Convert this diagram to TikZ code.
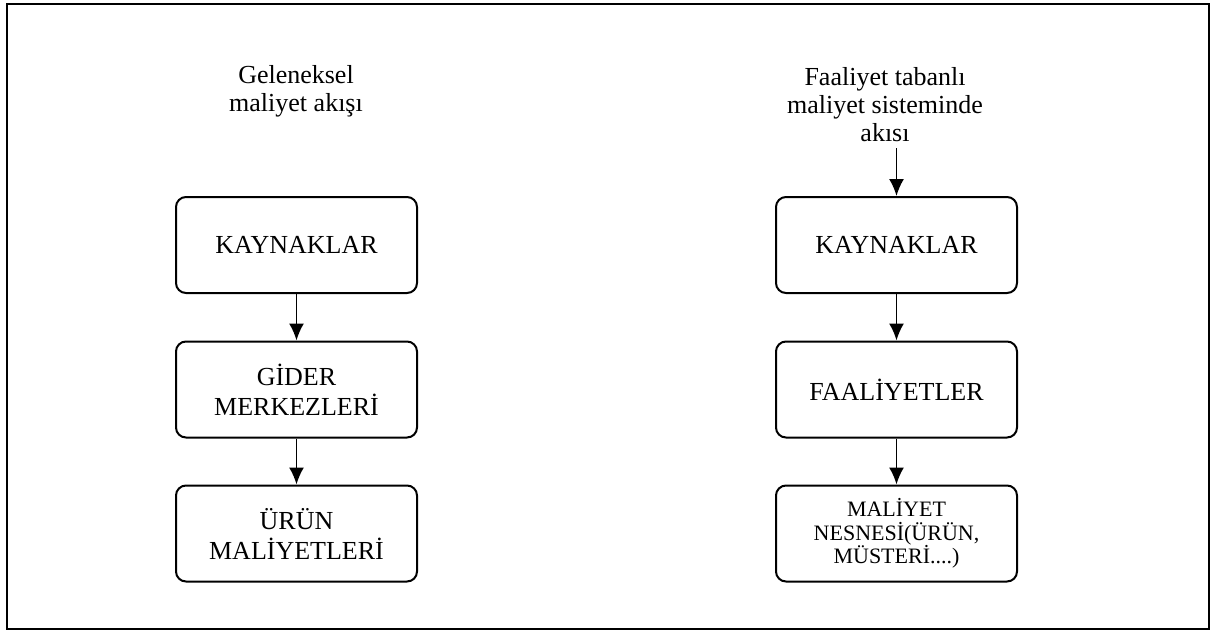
\documentclass[tikz,border=0pt]{standalone}
\usepackage{fontspec}
\setmainfont{Liberation Serif}
\usetikzlibrary{arrows.meta}

\tikzset{kutu/.style={draw,line width=2pt,rounded corners=10pt,minimum width=241pt,minimum height=96pt,align=center,inner sep=2pt,font=\fontsize{26}{30}\selectfont},
baslik/.style={align=center,inner sep=0pt,font=\fontsize{26}{28}\selectfont}}

\begin{document}
\begin{tikzpicture}[x=1pt,y=-1pt]
\useasboundingbox (0,0) rectangle (1214,632);
\draw[line width=2.6pt] (7,4) rectangle (1209,629);%cerceve

% geleneksel
\node[baslik] (gbaslik) at (296,91) {Geleneksel\\maliyet akışı};
\node[kutu] (gkaynak) at (296.5,245) {KAYNAKLAR};
\node[kutu] (gider) at (296.5,389.5) {GİDER\\MERKEZLERİ};
\node[kutu] (urun) at (296.5,533.5) {ÜRÜN\\MALİYETLERİ};

\draw[->,>={Latex[length=17pt,width=15pt]},line width=1.8pt] (gkaynak) -- (gider);
\draw[->,>={Latex[length=17pt,width=15pt]},line width=1.8pt] (gider) -- (urun);

% faaliyet tabanli
\node[baslik] (fbaslik) at (885,105) {Faaliyet tabanlı\\maliyet sisteminde\\akısı};
\coordinate (fok) at (896.5,148);
\node[kutu] (fkaynak) at (896.5,245) {KAYNAKLAR};
\node[kutu] (faal) at (896.5,389.5) {FAALİYETLER};
\node[kutu,font=\fontsize{22}{23.5}\selectfont] (nesne) at (896.5,533.5) {MALİYET\\NESNESİ(ÜRÜN,\\MÜSTERİ....)};

\draw[->,>={Latex[length=17pt,width=15pt]},line width=1.8pt] (fok) -- (fkaynak);
\draw[->,>={Latex[length=17pt,width=15pt]},line width=1.8pt] (fkaynak) -- (faal);
\draw[->,>={Latex[length=17pt,width=15pt]},line width=1.8pt] (faal) -- (nesne);

\end{tikzpicture}
\end{document}
